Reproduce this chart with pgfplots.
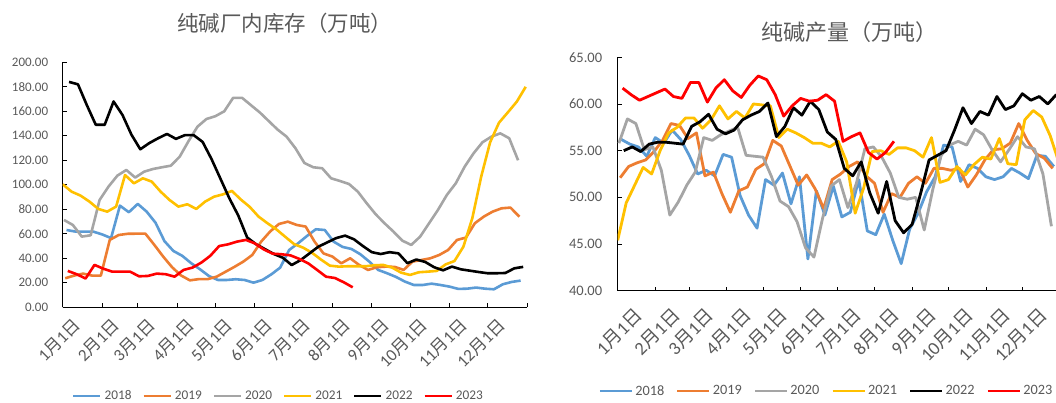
\documentclass[border=0pt]{standalone}
\usepackage{fontspec}
\setmainfont{Carlito}
\newfontfamily\cjk{Noto Sans CJK SC}
\usepackage{pgfplots}
\usepackage{pgfplotstable}
\pgfplotsset{compat=1.18}
\definecolor{cA}{HTML}{5B9BD5}
\definecolor{cB}{HTML}{ED7D31}
\definecolor{cC}{HTML}{A5A5A5}
\definecolor{cD}{HTML}{FFC000}
\definecolor{cE}{HTML}{000000}
\definecolor{cF}{HTML}{FF0000}
\definecolor{txt}{HTML}{595959}
\newcommand\md[1]{#1{\cjk 月}1{\cjk 日}}

% week start (day of year), then 2018 ... 2023
\pgfplotstableread{
w a b c d e f
0 63.1 23.7 71.3 100.4 184 29.7
7 61.8 25.9 67.2 94.4 182 27
14 61.8 27.5 57.7 91.2 165 23.5
21 61.8 25.9 58.8 86.3 149 34.6
28 59.5 25.9 87.6 80.3 149 31.5
35 56.5 55 98.5 78.1 168 29.1
42 83 59 107.5 82.2 157 29.1
49 77.6 60 112.1 108 141 29.1
56 84.4 60.1 105.9 101.2 129 25.3
63 78.1 60.1 110.7 105.3 134 25.6
70 69 51 112.9 102.6 138 27.5
77 54 41.4 114.3 94.4 141.5 27
84 46 32.7 115.6 87.6 137.5 25
91 42 26 123 82.2 140.5 30.5
98 36 22 135.8 84.1 140.5 32.4
105 31 23 147.5 80.3 135 36.5
112 25.5 23 153.7 86.3 121 42
119 22.3 25 156 90.3 105 50
126 22.3 29 160 92.2 89 51.4
133 22.9 33 171 95 75 53.6
140 22.3 37.3 171 88 57 55
147 20.1 42.7 165 82 51.5 52.2
154 22.3 53.6 159 74 47.5 47.3
161 26.9 61.8 152 68.6 43.5 43.8
168 32.4 68 145 63.6 40.5 43.3
175 46.8 69.9 139.3 57.5 34.5 42.4
182 52.2 67.2 129.8 51.5 38.5 39.5
189 58.2 65.9 117.8 48.7 44 35.9
196 63.7 53.6 114.3 44.5 49.5 30.5
203 63.1 44 113.5 39 53 25
210 53.6 41.4 105.3 34 56.5 23.9
217 49.3 35.9 103.1 33.2 58.5 20.4
224 47.6 40 100.7 33.5 55.5 16.3
231 43.3 34.6 94.4 33.5 50 nan
238 37.3 30.5 84.9 33.5 45 nan
245 30.5 32.7 76 34.3 43.5 nan
252 27.8 33.2 68.6 34.6 45 nan
259 24.8 33 61.8 32.4 44 nan
266 21 30.5 54.4 28.3 36 nan
273 18.2 37.3 50.9 26.4 39 nan
280 18.2 38.6 57.7 28.6 37 nan
287 19.3 40 68.6 29.1 32.7 nan
294 18.2 42.7 79.5 29.7 30.2 nan
301 16.9 46.8 91.7 35 33.2 nan
308 15 55 101.2 37.8 31 nan
315 15.2 56.9 114.8 49.5 29.9 nan
322 16.1 68.6 125.7 72.7 28.8 nan
329 15.2 74 134.7 106.7 27.8 nan
336 14.7 78.1 139.3 134.7 27.8 nan
343 18.8 80.8 142 150.7 28 nan
350 20.7 81.4 138 159.2 31.8 nan
357 21.8 74 120 167.9 33 nan
364 nan nan nan 180 nan nan
}\kucun

\pgfplotstableread{
w a b c d e f
0 56.2 52.1 55.8 45.4 55.0 61.7
7 55.7 53.3 58.4 49.4 55.4 61.0
14 55.4 53.7 57.9 51.3 54.9 60.4
21 54.4 54.0 55.1 53.2 55.7 60.8
28 56.4 54.9 55.4 52.5 55.9 61.2
35 55.8 56.1 52.9 55.0 55.9 61.6
42 57.2 57.9 48.1 56.9 55.8 60.8
49 56.2 57.7 49.5 57.5 55.7 60.6
56 54.5 56.3 51.3 58.5 57.6 62.3
63 52.5 56.9 52.7 58.5 58.1 62.3
70 52.9 52.3 56.4 57.4 58.9 60.2
77 52.3 52.7 56.1 58.3 57.3 61.7
84 54.6 50.4 56.7 59.8 56.8 62.6
91 54.3 48.4 57.1 58.4 57.2 61.4
98 50.2 50.7 57.5 59.2 58.3 60.7
105 48.1 51.1 54.5 58.5 58.8 62.0
112 46.7 53.0 54.4 60.0 59.2 63.0
119 51.9 53.6 54.3 59.9 60.1 62.6
126 51.3 56.1 52.2 59.8 56.5 61.0
133 52.6 55.5 49.6 56.4 57.6 58.7
140 49.3 53.4 49.0 57.3 59.6 59.8
147 52.2 51.3 47.4 56.9 58.8 60.6
154 43.4 52.4 44.6 56.4 60.3 60.3
161 50.7 50.9 43.6 55.8 59.4 60.4
168 48.1 48.8 47.7 55.8 57.0 61.0
175 51.2 51.9 51.2 55.4 56.2 60.3
182 47.9 52.5 51.9 56.0 53.1 56.0
189 48.4 53.3 48.9 53.8 52.3 56.5
196 51.9 53.8 51.5 48.3 53.8 56.9
203 46.4 52.3 55.2 51.0 50.5 54.8
210 46.0 51.5 55.4 54.9 48.3 54.1
217 48.2 48.4 54.3 55.0 51.7 54.8
224 45.4 50.4 52.6 54.6 47.5 56.0
231 42.9 50.0 50.0 55.3 46.2 nan
238 46.6 51.5 49.8 55.3 47.1 nan
245 48.3 52.2 50.0 55.0 50.4 nan
252 50.6 51.5 46.5 54.3 54.0 nan
259 52.2 53.1 50.8 56.4 54.5 nan
266 55.6 53.1 54.5 51.6 55.0 nan
273 55.4 52.9 55.6 51.9 57.2 nan
280 51.7 53.1 56.0 53.3 59.6 nan
287 53.5 51.1 55.6 52.4 57.9 nan
294 53.1 52.4 57.3 53.5 59.2 nan
301 52.2 54.0 56.7 54.3 58.8 nan
308 51.9 55.1 55.1 54.1 60.8 nan
315 52.2 55.2 53.8 56.3 59.4 nan
322 53.1 55.8 55.1 53.6 59.8 nan
329 52.6 57.9 56.5 53.5 61.1 nan
336 52.0 56.1 55.4 58.3 60.4 nan
343 54.5 54.7 55.2 59.3 60.8 nan
350 54.4 54.2 52.5 58.6 60.0 nan
357 53.3 53.1 46.9 56.6 61.0 nan
364 nan nan nan 53.8 nan nan
}\chanliang

\pgfplotsset{
  excel/.style={
    scale only axis,
    axis x line*=bottom, axis y line*=left,
    axis line style={-, black, line width=0.9pt},
    tick align=inside, tick pos=left, major tick length=4pt,
    major tick style={black, line width=0.9pt},
    xmin=0, xmax=365,
    xtick={0,31,59,90,120,151,181,212,243,273,304,334,365},
    xticklabels={\md{1},\md{2},\md{3},\md{4},\md{5},\md{6},\md{7},\md{8},\md{9},\md{10},\md{11},\md{12},{}},
    scaled y ticks=false,
    /pgf/number format/fixed, /pgf/number format/fixed zerofill,
    /pgf/number format/precision=2, /pgf/number format/assume math mode=true,
    yticklabel={\pgfmathprintnumber{\tick}},
    no markers, clip=true,
    every axis plot/.append style={line join=round},
    legend columns=6,
    legend image code/.code={\draw[##1] (0pt,0pt) -- (27pt,0pt);},
  }
}

\begin{document}
\begin{tikzpicture}
\path[use as bounding box] (0pt,0pt) rectangle (1056pt,403pt);
\begin{axis}[excel,
  at={(62.7pt,95.7pt)}, anchor=south west,
  width=464.3pt, height=245pt,
  ymin=0, ymax=200, ytick={0,20,...,200},
  xticklabel style={rotate=45, anchor=north east, inner sep=0pt, yshift=-13pt, font=\fontsize{17}{17}\selectfont, text=txt},
  yticklabel style={font=\fontsize{13}{13}\selectfont, text=txt, xshift=-11pt},
  title={纯碱厂内库存（万吨）},
  title style={at={(0.478,1)}, anchor=center, yshift=33pt, font=\cjk\fontsize{21.5}{21.5}\selectfont, text=txt},
  legend style={at={(0.4626,0)}, anchor=center, yshift=-88.7pt, draw=none, fill=none,
    inner sep=0pt, nodes={inner sep=0pt, text=txt, font=\fontsize{13.3}{13.3}\selectfont},
    /tikz/every odd column/.append style={column sep=3pt},
    /tikz/every even column/.append style={column sep=10.7pt}},
]
\addplot[cA, line width=2.6pt] table[x expr=\thisrow{w}+3, y=a] {\kucun};
\addlegendentry{2018}
\addplot[cB, line width=2.6pt] table[x expr=\thisrow{w}+2, y=b] {\kucun};
\addlegendentry{2019}
\addplot[cC, line width=2.6pt] table[x expr=\thisrow{w}+1, y=c] {\kucun};
\addlegendentry{2020}
\addplot[cD, line width=2.6pt] table[x=w, y=d] {\kucun};
\addlegendentry{2021}
\addplot[cE, line width=2.6pt] table[x expr=\thisrow{w}+5, y=e] {\kucun};
\addlegendentry{2022}
\addplot[cF, line width=2.6pt] table[x expr=\thisrow{w}+4, y=f] {\kucun};
\addlegendentry{2023}
\end{axis}

\begin{axis}[excel,
  at={(617.7pt,112.3pt)}, anchor=south west,
  width=442.2pt, height=233.4pt,
  ymin=40, ymax=65, ytick={40,45,...,65},
  xticklabel style={rotate=45, anchor=north east, inner sep=0pt, yshift=-22pt, font=\fontsize{18.5}{18.5}\selectfont, text=txt},
  yticklabel style={font=\fontsize{14.5}{14.5}\selectfont, text=txt, xshift=-12pt},
  title={纯碱产量（万吨）},
  title style={at={(0.525,1)}, anchor=center, yshift=19pt, font=\cjk\fontsize{22}{22}\selectfont, text=txt},
  legend image code/.code={\draw[#1] (0pt,0pt) -- (32pt,0pt);},
  legend style={at={(0.4696,0)}, anchor=center, yshift=-100.3pt, draw=none, fill=none,
    inner sep=0pt, nodes={inner sep=0pt, text=txt, font=\fontsize{14.3}{14.3}\selectfont},
    /tikz/every odd column/.append style={column sep=2pt},
    /tikz/every even column/.append style={column sep=11.8pt}},
]
\addplot[cA, line width=2.8pt] table[x expr=\thisrow{w}+3, y=a] {\chanliang};
\addlegendentry{2018}
\addplot[cB, line width=2.8pt] table[x expr=\thisrow{w}+2, y=b] {\chanliang};
\addlegendentry{2019}
\addplot[cC, line width=2.8pt] table[x expr=\thisrow{w}+1, y=c] {\chanliang};
\addlegendentry{2020}
\addplot[cD, line width=2.8pt] table[x=w, y=d] {\chanliang};
\addlegendentry{2021}
\addplot[cE, line width=2.8pt] table[x expr=\thisrow{w}+5, y=e] {\chanliang};
\addlegendentry{2022}
\addplot[cF, line width=2.8pt] table[x expr=\thisrow{w}+4, y=f] {\chanliang};
\addlegendentry{2023}
\end{axis}
\end{tikzpicture}
\end{document}
